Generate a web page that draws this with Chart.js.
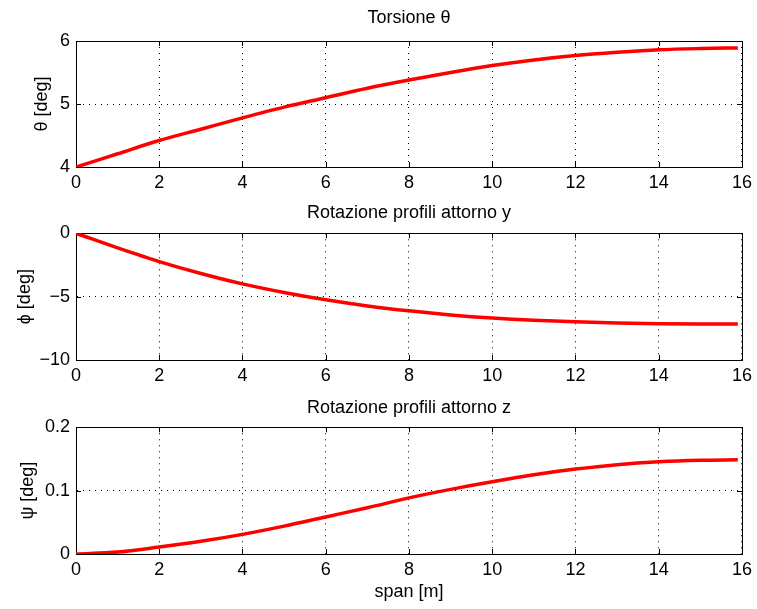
<!DOCTYPE html>
<html>
<head>
<meta charset="utf-8">
<script src="https://cdn.jsdelivr.net/npm/chart.js@4/dist/chart.umd.min.js"></script>
<style>
  body { margin: 0; background: #fff; }
  .wrap { position: relative; width: 757px; height: 609px; }
  canvas { position: absolute; left: 0; }
</style>
</head>
<body>
<div class="wrap">
  <canvas id="thetaChart" width="757" height="197" style="top:0"></canvas>
  <canvas id="phiChart" width="757" height="197" style="top:197px"></canvas>
  <canvas id="psiChart" width="757" height="215" style="top:394px"></canvas>
</div>
<script>
// span positions [m]
const span = [0, 1, 2, 3, 4, 5, 6, 7, 8, 9, 10, 11, 12, 13, 14, 15, 15.9];
// torsion theta [deg]
const theta = [4.00, 4.21, 4.42, 4.60, 4.78, 4.95, 5.10, 5.25, 5.38, 5.50, 5.61, 5.70, 5.77, 5.82, 5.86, 5.88, 5.89];
// rotation about y, phi [deg]
const phi = [0, -1.15, -2.23, -3.17, -3.99, -4.67, -5.25, -5.73, -6.12, -6.44, -6.69, -6.87, -6.99, -7.08, -7.13, -7.15, -7.15];
// rotation about z, psi [deg]
const psi = [0, 0.003, 0.011, 0.020, 0.031, 0.044, 0.0585, 0.073, 0.0886, 0.102, 0.114, 0.125, 0.134, 0.141, 0.1456, 0.148, 0.1487];

const xTicks = [0, 2, 4, 6, 8, 10, 12, 14, 16];

const FONT = '"Liberation Sans", Arial, Helvetica, sans-serif';
Chart.defaults.font.family = FONT;
Chart.defaults.color = '#000';

// MATLAB-like box with inward tick marks
const boxPlugin = {
    id: 'box',
    beforeDatasetsDraw(chart) {
        const { ctx, chartArea: a, scales } = chart;
        const len = 5;
        ctx.save();
        ctx.strokeStyle = '#000';
        ctx.lineWidth = 1;
        ctx.beginPath();
        scales.x.ticks.forEach(t => {
            const px = Math.round(scales.x.getPixelForValue(t.value)) + 0.5;
            ctx.moveTo(px, a.bottom); ctx.lineTo(px, a.bottom - len);
            ctx.moveTo(px, a.top); ctx.lineTo(px, a.top + len);
        });
        scales.y.ticks.forEach(t => {
            const py = Math.round(scales.y.getPixelForValue(t.value)) + 0.5;
            ctx.moveTo(a.left, py); ctx.lineTo(a.left + len, py);
            ctx.moveTo(a.right, py); ctx.lineTo(a.right - len, py);
        });
        ctx.stroke();
        ctx.strokeRect(Math.round(a.left) + 0.5, Math.round(a.top) + 0.5,
            Math.round(a.right - a.left), Math.round(a.bottom - a.top));
        ctx.restore();
    }
};

function makeChart(id, cfg) {
    const data = span.map((x, i) => ({ x: x, y: cfg.values[i] }));
    const gridStyle = {
        color: '#000',
        lineWidth: 1,
        drawTicks: false
    };
    new Chart(document.getElementById(id), {
        type: 'line',
        data: {
            datasets: [{
                data: data,
                borderColor: '#ff0000',
                borderWidth: 3.5,
                pointRadius: 0,
                cubicInterpolationMode: 'monotone',
                fill: false
            }]
        },
        options: {
            responsive: false,
            animation: false,
            layout: { padding: { left: 0, right: 14, top: 0, bottom: 0 } },
            plugins: {
                legend: { display: false },
                tooltip: { enabled: false },
                title: {
                    display: true,
                    fullSize: false,
                    text: cfg.title,
                    color: '#000',
                    font: { size: 18, weight: 'normal', lineHeight: 1.2 },
                    padding: cfg.titlePad
                }
            },
            scales: {
                x: {
                    type: 'linear',
                    min: 0,
                    max: 16,
                    afterBuildTicks: s => { s.ticks = xTicks.map(v => ({ value: v })); },
                    grid: gridStyle,
                    border: { display: true, color: '#000', dash: [1, 5] },
                    ticks: { font: { size: 18 }, padding: 5, maxRotation: 0, color: '#000' },
                    title: cfg.xTitle ? {
                        display: true, text: cfg.xTitle, color: '#000',
                        font: { size: 18, lineHeight: 1.2 }, padding: { top: 0, bottom: 6 }
                    } : { display: false },
                    afterFit: s => { s.height = cfg.xHeight; }
                },
                y: {
                    min: cfg.yMin,
                    max: cfg.yMax,
                    afterBuildTicks: s => { s.ticks = cfg.yTicks.map(v => ({ value: v })); },
                    grid: gridStyle,
                    border: { display: true, color: '#000', dash: [1, 5] },
                    ticks: {
                        font: { size: 18 },
                        padding: 6,
                        color: '#000',
                        callback: v => String(v).replace('-', '\u2212')
                    },
                    title: {
                        display: true, text: cfg.yTitle, color: '#000',
                        font: { size: 18, lineHeight: 1.2 }, padding: { top: cfg.yTitlePad, bottom: 0 }
                    },
                    afterFit: s => { s.width = 76; }
                }
            }
        },
        plugins: [boxPlugin]
    });
}

makeChart('thetaChart', {
    title: 'Torsione \u03b8',
    values: theta,
    yMin: 4, yMax: 6, yTicks: [4, 5, 6],
    yTitle: '\u03b8 [deg]',
    yTitlePad: 31,
    titlePad: { top: 7.2, bottom: 12.2 },
    xHeight: 30
});

makeChart('phiChart', {
    title: 'Rotazione profili attorno y',
    values: phi,
    yMin: -10, yMax: 0, yTicks: [-10, -5, 0],
    yTitle: '\u03d5 [deg]',
    yTitlePad: 14,
    titlePad: { top: 5.2, bottom: 9.5 },
    xHeight: 34
});

makeChart('psiChart', {
    title: 'Rotazione profili attorno z',
    values: psi,
    yMin: 0, yMax: 0.2, yTicks: [0, 0.1, 0.2],
    yTitle: '\u03c8 [deg]',
    yTitlePad: 17,
    titlePad: { top: 3.2, bottom: 8.5 },
    xHeight: 55,
    xTitle: 'span [m]'
});
</script>
</body>
</html>
